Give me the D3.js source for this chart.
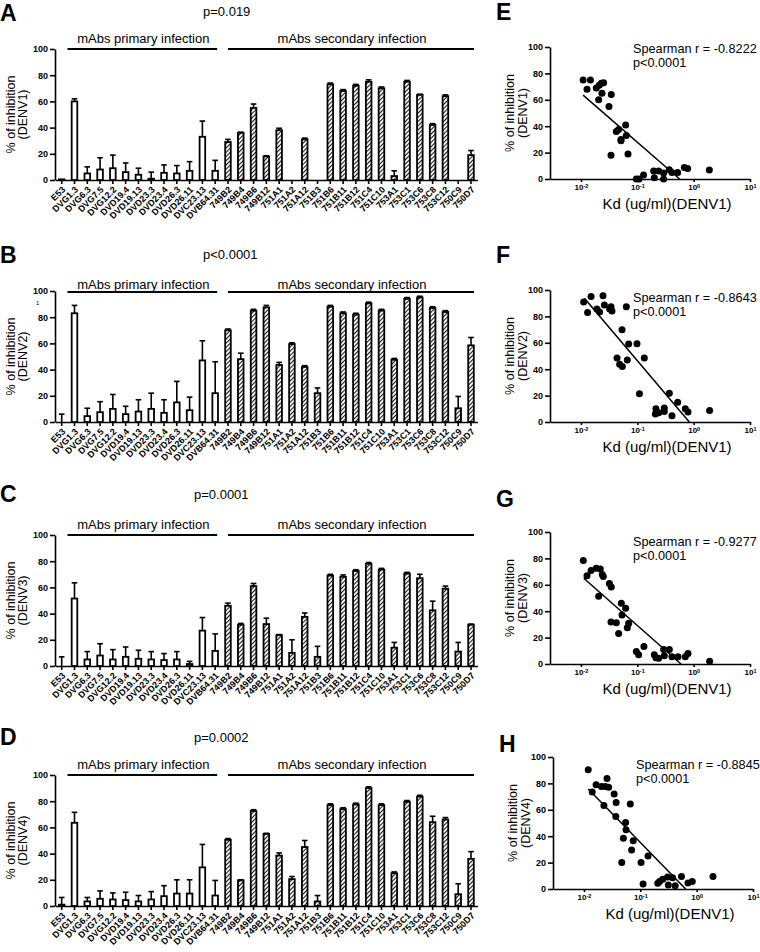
<!DOCTYPE html>
<html><head><meta charset="utf-8">
<script src="https://cdn.jsdelivr.net/npm/d3@7"></script>
<style>
body{margin:0;background:#fff}
text{font-family:"Liberation Sans",Arial,Helvetica,sans-serif;fill:#000}
</style>
</head><body>
<svg id="c" width="760" height="952" xmlns="http://www.w3.org/2000/svg"></svg>
<script>
// ---------------- DATA ----------------
const categories = ["E53","DVG1.3","DVG6.3","DVG7.5","DVG12.2","DVD19.4","DVD19.13","DVD23.3","DVD23.4","DVD26.3","DVD26.11","DVC23.13","DVB64.31",
  "749B2","749B4","749B6","749B12","751A1","751A2","751A12","751B3","751B6","751B11","751B12","751C4","751C10","753A1","753C1","753C6","753C8","753C12","750C9","750D7"];
const primaryCount = 13;
const groupLabels = ["mAbs primary infection","mAbs secondary infection"];
const serotypes = ["DENV1","DENV2","DENV3","DENV4"];
const barLetters = ["A","B","C","D"];
const scatterLetters = ["E","F","G","H"];
const pValues = ["p=0.019","p<0.0001","p=0.0001","p=0.0002"];
const spearmanR = ["-0.8222","-0.8643","-0.9277","-0.8845"];
const spearmanP = ["p<0.0001","p<0.0001","p<0.0001","p<0.0001"];
const yTicks = [0,20,40,60,80,100];
const logTicks = [0.01,0.1,1,10];

const inhDENV1 = [0.5,60,5,8,9,6,4,1,5.5,5,7,33,7, 29,36,55,18,38,0,31,0,73,68,72,75,70,3,75,65,42,64,0,19];
const errDENV1 = [0,2,5,9,10,7,5,5,6,6,7,12,8, 2,0.5,3,0.5,1.5,0,1,0,1,1,1,1.5,1,4,1,0.5,1,1,0,3.5];
const inhDENV2 = [0,83,4.5,7.5,10,6,8,10,7,15,9,47,22, 70,48,85,87.5,43.5,59.5,42,22,88,83,82,90.5,85,47.5,94,95,87,84,10.5,58.5];
const errDENV2 = [6,6,6,8,11,6,9,12,10,16,10,15,24, 1,4.5,1,1.5,2,1,1,4,1,1,1,1,1,1,1,1,1,1,9,6];
const inhDENV3 = [0,51.5,5,8,5,7,5.5,5,4.5,5,1.5,27,11.5, 46,31.5,61,32,23.5,10,37.5,7,69,68,72.5,78,73.5,14,70.5,67,42.5,59,11,31.5];
const errDENV3 = [7,12,6,9,7.5,7.5,6.5,6,5,6,2,10,13, 2,1,2,4.5,0.5,10,3,8,1,1.5,1,1,1,4,1,3,7,2,7,0.5];
const inhDENV4 = [1,63.5,3.5,5.5,5,4.5,3.5,5,7.5,9.5,9.5,29.5,8, 50.5,19.5,72.5,55,38.5,20.5,45,3.5,77,74,77.5,90,77,25,79.5,83.5,64,66,9,36];
const errDENV4 = [5.5,8,3,6,5,6,4.5,6,8,10.5,10.5,17.5,11.5, 1,0.5,1,0.5,2,2,5,4.5,1,1,1,1,1,1,1,1,4.5,1.5,8,5.5];

const kdE  = [0.0109,0.0128,0.0147,0.0187,0.0211,0.0230,0.0252,0.0206,0.0236,0.0345,0.0314,0.0341,0.0424,0.0466,0.0513,0.0513,0.0621,0.0638,0.0683,0.0959,0.107,0.129,0.195,0.239,0.200,0.293,0.293,0.370,0.412,0.520,0.683,0.782,1.90];
const inhE = [75,68,75,69,71,72.5,73,60,65,64,55,18,36,37.5,30,29,41,33,19,0,0,3,6,6,1,4.5,0,7,5,5,8.8,8,6.8];
const kdF  = [0.01115,0.0131,0.0151,0.0192,0.0214,0.0246,0.0260,0.0341,0.0355,0.0323,0.0638,0.0535,0.0702,0.0986,0.0436,0.0486,0.0542,0.0664,0.133,0.109,0.209,0.214,0.239,0.301,0.301,0.370,0.412,0.520,0.711,0.793,1.92];
const inhF = [91,83,95,85.6,83.4,95.7,88.7,87.4,84,85.6,87.4,69.8,59,59.2,48.4,43.8,42,47,48.4,21.4,6,10,7,8,10.6,21.7,4.8,14.9,10,7.5,8.8];
const kdG  = [0.0110,0.0128,0.0151,0.0187,0.0220,0.0239,0.0249,0.0206,0.0319,0.0345,0.0341,0.0424,0.0466,0.0520,0.0535,0.0621,0.0664,0.0702,0.0959,0.1057,0.131,0.200,0.214,0.239,0.293,0.301,0.370,0.412,0.527,0.711,0.793,1.92];
const inhG = [78.4,66.8,70.9,72.6,71.9,67.8,66.3,51.3,61,58.3,31.9,31.2,23.1,46,37.2,42.2,27.4,30.9,9.5,7,13.3,7,4.8,4.3,11,6.3,11,5.5,5.5,5.5,8,2];
const kdH  = [0.0119,0.0140,0.0164,0.0204,0.0239,0.0256,0.0274,0.0226,0.0343,0.0372,0.0367,0.0468,0.0500,0.0549,0.0557,0.0663,0.0748,0.0700,0.103,0.112,0.137,0.204,0.219,0.250,0.305,0.314,0.374,0.416,0.537,0.702,0.836,1.95];
const inhH = [90.4,73.4,79,77.7,77.7,83.8,77,63.3,71.9,65.6,54.9,20,38.5,50.4,44.8,64.3,36.5,29.6,20,3.8,25,4.3,5.6,7.3,9.1,3,8.6,2.5,9.4,4.6,5.6,9.4];

const fitE = [[0.0109,63.5],[0.564,0]];
const fitF = [[0.0115,93.7],[0.837,0]];
const fitG = [[0.0112,65],[0.596,0]];
const fitH = [[0.0119,75.7],[0.638,0]];

// ---------------- DRAWING ----------------
const barVals = [inhDENV1,inhDENV2,inhDENV3,inhDENV4];
const barErrs = [errDENV1,errDENV2,errDENV3,errDENV4];
const scKd = [kdE,kdF,kdG,kdH];
const scInh = [inhE,inhF,inhG,inhH];
const scFit = [fitE,fitF,fitG,fitH];

const svg = d3.select("#c");
svg.append("rect").attr("width",760).attr("height",952).attr("fill","#fff");
const defs = svg.append("defs");
const HS = 3;
const pat = defs.append("pattern").attr("id","hatch").attr("patternUnits","userSpaceOnUse")
  .attr("width",HS).attr("height",HS).attr("patternTransform","rotate(45)");
pat.append("rect").attr("width",HS).attr("height",HS).attr("fill","#fff");
pat.append("line").attr("x1",0.6).attr("y1",-1).attr("x2",0.6).attr("y2",HS+1).attr("stroke","#000").attr("stroke-width",1);

function styleAxis(a, fs){
  a.select(".domain").attr("stroke","#000").attr("stroke-width",1.6);
  a.selectAll(".tick line").attr("stroke","#000").attr("stroke-width",1.6);
  a.selectAll(".tick text").attr("font-size",fs).attr("font-weight","bold").attr("font-family",null);
}

const barTops = [49,291,535,775];
const barH = 131;
const letterBase = [21,263,502,745];
const pPos = [[203,16],[203,259],[194,499],[194,742]];
const headTextBase = [43,289,529,769];
const headLineY = [49,292,535,775];

function drawBarPanel(k){
  const top = barTops[k], bottom = top + barH;
  const g = svg.append("g");
  const x = d3.scaleBand(categories,[55.3,477.4]);
  const y = d3.scaleLinear([0,100],[bottom,top]);
  const cx = c => x(c) + x.bandwidth()/2;

  const ya = g.append("g").attr("transform","translate(55,0)")
    .call(d3.axisLeft(y).tickValues(yTicks).tickSize(5).tickSizeOuter(0).tickPadding(2));
  styleAxis(ya,"9px");
  const xa = g.append("g").attr("transform",`translate(0,${bottom})`)
    .call(d3.axisBottom(x).tickSize(4).tickSizeOuter(0));
  styleAxis(xa,"9px");
  xa.selectAll(".tick text").attr("y",0).attr("x",0).attr("dy","0.35em")
    .attr("text-anchor","end").attr("transform","translate(2,8) rotate(-45)");

  const data = categories.map((c,i)=>({c, v:barVals[k][i], e:barErrs[k][i], sec: i>=primaryCount}));
  const bw = 5.6;
  g.selectAll("rect.bar").data(data.filter(d=>d.v>0)).join("rect").attr("class","bar")
    .attr("x",d=>cx(d.c)-bw/2).attr("width",bw)
    .attr("y",d=>y(d.v)).attr("height",d=>bottom-y(d.v))
    .attr("fill",d=>d.sec?"url(#hatch)":"#fff")
    .attr("stroke","#000").attr("stroke-width",1.8);
  const eb = g.selectAll("g.err").data(data.filter(d=>d.e>0)).join("g").attr("class","err");
  eb.append("line").attr("x1",d=>cx(d.c)).attr("x2",d=>cx(d.c))
    .attr("y1",d=>y(d.v)).attr("y2",d=>y(d.v+d.e)).attr("stroke","#000").attr("stroke-width",1.6);
  eb.append("line").attr("x1",d=>cx(d.c)-2.8).attr("x2",d=>cx(d.c)+2.8)
    .attr("y1",d=>y(d.v+d.e)).attr("y2",d=>y(d.v+d.e)).attr("stroke","#000").attr("stroke-width",1.6);

  const groups = [
    {x1: cx(categories[1])-7, x2: cx(categories[primaryCount-1])+2, label: groupLabels[0]},
    {x1: cx(categories[primaryCount]), x2: cx(categories[categories.length-1])+3, label: groupLabels[1]}
  ];
  groups.forEach(gr=>{
    g.append("line").attr("x1",gr.x1).attr("x2",gr.x2).attr("y1",headLineY[k]).attr("y2",headLineY[k])
      .attr("stroke","#000").attr("stroke-width",2);
    g.append("text").attr("x",(gr.x1+gr.x2)/2+1).attr("y",headTextBase[k]).attr("text-anchor","middle")
      .attr("font-size","13px").text(gr.label);
  });

  const mid = (top+bottom)/2;
  g.append("text").attr("transform",`translate(15,${mid}) rotate(-90)`).attr("text-anchor","middle")
    .attr("font-size","12.5px").text("% of inhibition");
  g.append("text").attr("transform",`translate(27,${mid}) rotate(-90)`).attr("text-anchor","middle")
    .attr("font-size","12.5px").text(`(${serotypes[k]})`);
  g.append("text").attr("x",0).attr("y",letterBase[k]).attr("font-size","23px").attr("font-weight","bold").text(barLetters[k]);
  g.append("text").attr("x",pPos[k][0]).attr("y",pPos[k][1]).attr("font-size","13px").text(pValues[k]);
}

const scTops = [47,290,532,757];
const scH = 132;
const scX0 = [550,550,550,553];
const scLetterBase = [20,263,507,752];
const spY = [53,302,546,769];

function drawScatter(k){
  const top = scTops[k], bottom = top + scH, x0 = scX0[k];
  const g = svg.append("g");
  const x = d3.scaleLog([Math.pow(10,-2.55),10],[x0,x0+200]);
  const y = d3.scaleLinear([0,100],[bottom,top]);

  const ya = g.append("g").attr("transform",`translate(${x0},0)`)
    .call(d3.axisLeft(y).tickValues(yTicks).tickSize(5).tickSizeOuter(0).tickPadding(2));
  styleAxis(ya,"9px");
  const xa = g.append("g").attr("transform",`translate(0,${bottom})`)
    .call(d3.axisBottom(x).tickValues(logTicks).tickSize(3).tickSizeOuter(0).tickFormat(()=>""));
  styleAxis(xa,"8px");
  xa.selectAll(".tick text").each(function(d){
    const t = d3.select(this).attr("y",11).attr("dy",null).attr("font-size","8px");
    t.append("tspan").text("10");
    t.append("tspan").attr("dy","-0.45em").attr("font-size","5.5px").text(String(Math.round(Math.log10(d))));
  });

  g.append("path").datum(scFit[k]).attr("fill","none").attr("stroke","#000").attr("stroke-width",1.5)
    .attr("d",d3.line().x(d=>x(d[0])).y(d=>y(d[1])));
  const pts = scKd[k].map((kd,i)=>({kd, v:scInh[k][i]}));
  g.selectAll("circle").data(pts).join("circle")
    .attr("cx",d=>x(d.kd)).attr("cy",d=>y(d.v)).attr("r",3.5).attr("fill","#000");

  const mid = (top+bottom)/2;
  g.append("text").attr("transform",`translate(${x0-36},${mid}) rotate(-90)`).attr("text-anchor","middle")
    .attr("font-size","12.5px").text("% of inhibition");
  g.append("text").attr("transform",`translate(${x0-23},${mid}) rotate(-90)`).attr("text-anchor","middle")
    .attr("font-size","12.5px").text(`(${serotypes[k]})`);
  g.append("text").attr("x",x0+117).attr("y",bottom+30).attr("text-anchor","middle")
    .attr("font-size","15px").text("Kd (ug/ml)(DENV1)");
  g.append("text").attr("x",x0+83).attr("y",spY[k]).attr("font-size","12.7px").text(`Spearman r = ${spearmanR[k]}`);
  g.append("text").attr("x",x0+83).attr("y",spY[k]+14).attr("font-size","12.7px").text(spearmanP[k]);
  g.append("text").attr("x",x0-54).attr("y",scLetterBase[k]).attr("font-size","23px").attr("font-weight","bold").text(scatterLetters[k]);
}

for (let k=0;k<4;k++){ drawBarPanel(k); drawScatter(k); }
svg.append("text").attr("x",36).attr("y",305).attr("font-size","6px").text("1");
</script>
</body></html>
